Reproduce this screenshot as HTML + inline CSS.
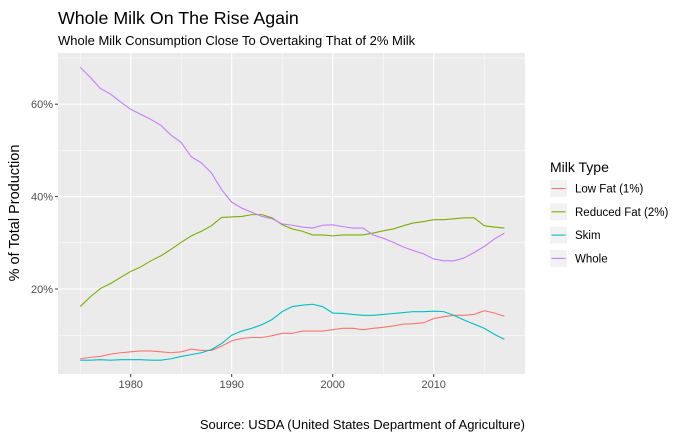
<!DOCTYPE html>
<html><head><meta charset="utf-8"><style>
body{margin:0;background:#fff;}
svg{display:block;font-family:"Liberation Sans",sans-serif;}
</style></head><body>
<svg id="chart" width="688" height="439" xmlns="http://www.w3.org/2000/svg">
<rect width="688" height="439" fill="#fff"/>
<text x="58" y="24" font-size="17.8" fill="#000">Whole Milk On The Rise Again</text>
<text x="58" y="45" font-size="13" fill="#000">Whole Milk Consumption Close To Overtaking That of 2% Milk</text>
<rect x="58" y="53" width="467" height="321" fill="#ebebeb"/>
<g id="grid"></g>
<g id="series"></g>
<g id="axes"></g>
<text transform="translate(19,213) rotate(-90)" text-anchor="middle" font-size="14.5" fill="#000">% of Total Production</text>
<text x="525" y="429" text-anchor="end" font-size="13" fill="#000">Source: USDA (United States Department of Agriculture)</text>
<g>
<text x="550" y="172" font-size="14" fill="#000">Milk Type</text>
<g id="legend-items"></g>
</g>
</svg>
<script>
const years=[1975,1976,1977,1978,1979,1980,1981,1982,1983,1984,1985,1986,1987,1988,1989,1990,1991,1992,1993,1994,1995,1996,1997,1998,1999,2000,2001,2002,2003,2004,2005,2006,2007,2008,2009,2010,2011,2012,2013,2014,2015,2016,2017];
const lowFat=[4.9,5.2,5.4,5.9,6.2,6.4,6.6,6.6,6.4,6.2,6.4,7.0,6.7,6.7,7.6,8.8,9.3,9.5,9.5,9.9,10.4,10.4,10.9,10.9,10.9,11.2,11.5,11.5,11.2,11.5,11.7,12.0,12.4,12.5,12.7,13.6,14.0,14.3,14.3,14.5,15.3,14.8,14.1];
const reduced=[16.2,18.3,20.1,21.2,22.5,23.8,24.8,26.1,27.2,28.6,30.1,31.5,32.5,33.7,35.5,35.6,35.7,36.1,36.1,35.4,33.9,33.0,32.5,31.7,31.7,31.5,31.7,31.7,31.7,32.1,32.6,33.0,33.7,34.3,34.6,35.0,35.0,35.2,35.4,35.4,33.7,33.4,33.2];
const skim=[4.6,4.6,4.7,4.6,4.7,4.7,4.7,4.6,4.6,4.9,5.4,5.8,6.2,6.9,8.2,10.0,10.9,11.5,12.3,13.4,15.1,16.2,16.5,16.7,16.2,14.8,14.7,14.5,14.3,14.3,14.5,14.7,14.9,15.1,15.1,15.2,15.1,14.3,13.3,12.4,11.5,10.2,9.1];
const whole=[68.0,65.8,63.4,62.2,60.5,58.9,57.8,56.7,55.4,53.3,51.7,48.6,47.3,45.1,41.5,38.8,37.5,36.6,35.7,35.2,34.1,33.8,33.4,33.2,33.8,33.9,33.5,33.2,33.2,31.7,31.0,30.1,29.1,28.3,27.6,26.5,26.1,26.1,26.7,27.9,29.2,30.8,32.1];
const seriesNames=["Low Fat (1%)","Reduced Fat (2%)","Skim","Whole"];
const xTicks=[1980,1990,2000,2010];
const xMinor=[1975,1985,1995,2005,2015];
const yTicks=[20,40,60];
const yMinor=[10,30,50,70];

const NS="http://www.w3.org/2000/svg";
const colors=["#F8766D","#7CAE00","#00BFC4","#C77CFF"];
const X0=58,X1=525,Y0=53,Y1=374;
function xs(y){return 80.2+(y-1975)*10.1;}
function ys(v){return 289-(v-20)*4.62;}
function mk(tag,attrs,parent){const e=document.createElementNS(NS,tag);for(const k in attrs)e.setAttribute(k,attrs[k]);parent.appendChild(e);return e;}
const grid=document.getElementById('grid'),axes=document.getElementById('axes'),ser=document.getElementById('series');
yMinor.forEach(v=>{const l=mk('line',{x1:X0,x2:X1,y1:ys(v),y2:ys(v),stroke:'#fff','stroke-width':0.5},grid);

});
xMinor.forEach(v=>{const l=mk('line',{x1:xs(v),x2:xs(v),y1:Y0,y2:Y1,stroke:'#fff','stroke-width':0.5},grid);

});
yTicks.forEach(v=>{const l=mk('line',{x1:X0,x2:X1,y1:ys(v),y2:ys(v),stroke:'#fff','stroke-width':1.1},grid);


const t=mk('line',{x1:X0-3,x2:X0,y1:ys(v),y2:ys(v),stroke:'#333'},axes);


const tx=mk('text',{x:X0-5,y:ys(v)+4,'text-anchor':'end','font-size':11,fill:'#4d4d4d'},axes);tx.textContent=v+'%';

});
xTicks.forEach(v=>{const l=mk('line',{x1:xs(v),x2:xs(v),y1:Y0,y2:Y1,stroke:'#fff','stroke-width':1.1},grid);


const t=mk('line',{x1:xs(v),x2:xs(v),y1:Y1,y2:Y1+3,stroke:'#333'},axes);


const tx=mk('text',{x:xs(v),y:Y1+14,'text-anchor':'middle','font-size':11,fill:'#4d4d4d'},axes);tx.textContent=v;

});
const data=[lowFat,reduced,skim,whole];
const keys=['low-fat','reduced-fat','skim','whole'];
data.forEach((arr,i)=>{const p=mk('polyline',{points:arr.map((v,j)=>xs(years[j])+','+ys(v)).join(' '),fill:'none',stroke:colors[i],'stroke-width':1.1},ser);

});
const li=document.getElementById('legend-items');
seriesNames.forEach((n,i)=>{const y=180+i*23.3;
const r=mk('rect',{x:550,y:y,width:17,height:17,fill:'#f2f2f2'},li);


const l=mk('line',{x1:551.5,x2:565.5,y1:y+8.5,y2:y+8.5,stroke:colors[i],'stroke-width':1.1},li);


const t=mk('text',{x:575,y:y+12.5,'font-size':11.5,fill:'#000'},li);t.textContent=n;

});
</script>
</body></html>
